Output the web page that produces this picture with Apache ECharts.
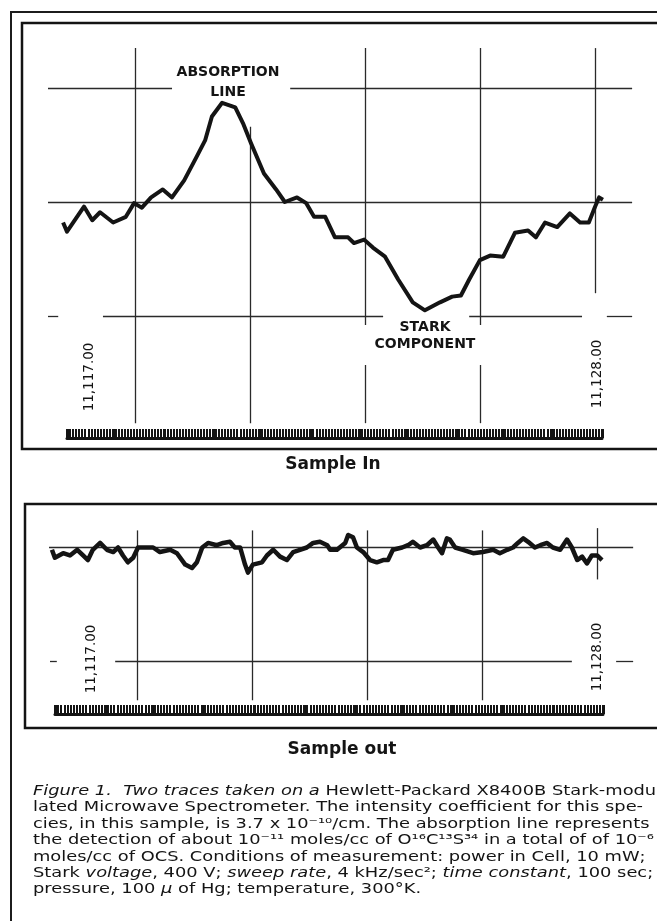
<!DOCTYPE html>
<html><head><meta charset="utf-8">
<script src="https://cdn.jsdelivr.net/npm/echarts/dist/echarts.min.js"></script>
<style>html,body{margin:0;padding:0;background:#fff}#c{width:657px;height:921px}</style>
</head><body><div id="c"></div>
<script>
// ---- data ----
const inFreq = [11116.94,11117.02,11117.37,11117.54,11117.70,11117.97,11118.23,11118.40,11118.56,11118.75,
 11118.99,11119.18,11119.43,11119.69,11119.86,11120.00,11120.21,11120.48,11120.64,11120.80,
 11121.07,11121.32,11121.50,11121.75,11121.94,11122.10,11122.33,11122.53,11122.80,11122.92,
 11123.13,11123.31,11123.56,11123.83,11124.13,11124.38,11124.69,11124.94,11125.12,11125.29,
 11125.51,11125.72,11125.99,11126.23,11126.50,11126.66,11126.85,11127.10,11127.36,11127.57,
 11127.75,11127.88,11127.96,11128.04];
const inSignal = [-0.18,-0.26,-0.04,-0.16,-0.09,-0.18,-0.13,-0.01,-0.05,0.04,
 0.11,0.04,0.19,0.40,0.54,0.75,0.87,0.83,0.69,0.52,
 0.25,0.11,0.00,0.04,-0.01,-0.13,-0.13,-0.31,-0.31,-0.36,
 -0.33,-0.40,-0.48,-0.68,-0.88,-0.95,-0.88,-0.83,-0.82,-0.68,
 -0.51,-0.47,-0.48,-0.27,-0.25,-0.31,-0.18,-0.22,-0.10,-0.18,
 -0.18,-0.04,0.04,0.02];
const outFreq = [11116.67,11116.73,11116.90,11117.04,11117.19,11117.31,11117.41,11117.51,11117.66,11117.80,
 11117.93,11118.03,11118.13,11118.23,11118.34,11118.44,11118.62,11118.75,11118.89,11119.10,
 11119.24,11119.41,11119.55,11119.65,11119.76,11119.88,11120.06,11120.19,11120.33,11120.43,
 11120.54,11120.64,11120.70,11120.80,11120.99,11121.09,11121.22,11121.36,11121.50,11121.63,
 11121.77,11121.91,11122.04,11122.18,11122.33,
 11122.39,11122.53,11122.70,11122.76,11122.86,11122.94,11123.07,11123.21,11123.35,11123.48,
 11123.58,11123.68,11123.87,11123.99,11124.09,11124.24,11124.38,11124.51,11124.61,11124.69,
 11124.79,11124.85,11124.96,11125.12,11125.33,11125.53,11125.74,11125.88,11126.03,11126.15,
 11126.25,11126.36,11126.46,11126.60,11126.71,11126.85,11126.97,11127.12,11127.26,11127.36,
 11127.47,11127.57,11127.67,11127.77,11127.88,11127.98];
const outSignal = [-0.02,-0.09,-0.05,-0.07,-0.02,-0.07,-0.11,-0.02,0.04,-0.02,
 -0.04,0.00,-0.07,-0.13,-0.09,0.00,0.00,0.00,-0.04,-0.02,
 -0.05,-0.15,-0.18,-0.13,0.00,0.04,0.02,0.04,0.05,0.00,
 0.00,-0.15,-0.22,-0.15,-0.13,-0.07,-0.02,-0.08,-0.11,-0.04,
 -0.02,0.00,0.04,0.05,0.02,
 -0.02,-0.02,0.04,0.11,0.09,0.00,-0.04,-0.11,-0.13,-0.11,
 -0.11,-0.02,0.00,0.02,0.05,0.00,0.02,0.07,0.00,-0.05,
 0.08,0.07,0.00,-0.02,-0.05,-0.04,-0.02,-0.05,-0.02,0.00,
 0.04,0.08,0.05,0.00,0.02,0.04,0.00,-0.02,0.07,0.00,
 -0.11,-0.08,-0.14,-0.07,-0.07,-0.11];
const sweepStart = 11117, sweepEnd = 11128;
const freqLabels = ['11,117.00', '11,128.00'];
const peakLabel = ['ABSORPTION', 'LINE'];
const dipLabel = ['STARK', 'COMPONENT'];
const panelTitles = ['Sample In', 'Sample out'];

// chart-paper rulings (level, from, to) and (freq, from, to)
const hRuleTop = [[1,11116.63,11119.18],[1,11121.61,11128.64],[0,11116.63,11128.64],
 [-1,11116.63,11116.84],[-1,11117.76,11123.52],[-1,11125.29,11127.61],[-1,11128.12,11128.64]];
const vRuleTop = [[11118.42,1.35,-1.94],[11120.78,0.66,-1.94],[11123.15,1.35,-1.08],[11123.15,-1.43,-1.94],
 [11125.51,1.35,-1.08],[11125.51,-1.43,-1.94],[11127.88,1.35,-0.80]];
const hRuleBot = [[0,11116.61,11128.62],[-1,11116.63,11116.77],[-1,11117.97,11127.36],[-1,11128.27,11128.62]];
const vRuleBot = [[11118.42,0.15,-1.34],[11120.78,0.15,-1.34],[11123.15,0.15,-1.34],[11125.51,0.15,-1.34],[11127.88,0.17,-0.28]];

function zip(a,b){return a.map((v,i)=>[v,b[i]]);}
function rules(h,v){
  const out=[];
  h.forEach(r=>out.push([{coord:[r[1],r[0]]},{coord:[r[2],r[0]]}]));
  v.forEach(r=>out.push([{coord:[r[0],r[1]]},{coord:[r[0],r[2]]}]));
  return out;
}
const ink = '#141414';
const ruleStyle = {color:'#2a2a2a', width:1.3, type:'solid'};
const rulerAxis = (gi)=>({gridIndex:gi,type:'value',min:sweepStart,max:sweepEnd,interval:1,
  axisLine:{show:true,lineStyle:{color:ink,width:3}},
  axisTick:{show:true,inside:true,length:9,lineStyle:{color:ink,width:3}},
  minorTick:{show:true,splitNumber:16,length:9,lineStyle:{color:ink,width:2}},
  axisLabel:{show:false},splitLine:{show:false}});

const chart = echarts.init(document.getElementById('c'), null, {renderer:'canvas'});
const F = '"DejaVu Sans", "Liberation Sans", sans-serif';
const C = {textAlign:'center',textVerticalAlign:'middle',align:'center',verticalAlign:'middle',fill:ink};
chart.setOption({
  animation:false,
  backgroundColor:'#fff',
  grid:[
    {left:41.68,width:598.22,top:31,height:399},
    {left:43.68,width:598.22,top:490.5,height:228},
    {left:67,width:535,top:437,height:1},
    {left:55,width:548,top:713,height:1}
  ],
  xAxis:[
    {gridIndex:0,type:'value',min:11116.5,max:11128.8,show:false},
    {gridIndex:1,type:'value',min:11116.5,max:11128.8,show:false},
    rulerAxis(2), rulerAxis(3)
  ],
  yAxis:[
    {gridIndex:0,type:'value',min:-2,max:1.5,show:false},
    {gridIndex:1,type:'value',min:-1.5,max:0.5,show:false},
    {gridIndex:2,type:'value',show:false},
    {gridIndex:3,type:'value',show:false}
  ],
  series:[
    {type:'line',xAxisIndex:0,yAxisIndex:0,data:[],z:1,silent:true,
     markLine:{silent:true,symbol:'none',label:{show:false},lineStyle:ruleStyle,data:rules(hRuleTop,vRuleTop)}},
    {type:'line',xAxisIndex:1,yAxisIndex:1,data:[],z:1,silent:true,
     markLine:{silent:true,symbol:'none',label:{show:false},lineStyle:ruleStyle,data:rules(hRuleBot,vRuleBot)}},
    {name:'Sample In',type:'line',xAxisIndex:0,yAxisIndex:0,data:zip(inFreq,inSignal),z:5,
     showSymbol:false,symbol:'none',lineStyle:{color:ink,width:4,join:'round'}},
    {name:'Sample out',type:'line',xAxisIndex:1,yAxisIndex:1,data:zip(outFreq,outSignal),z:5,
     showSymbol:false,symbol:'none',lineStyle:{color:ink,width:4.5,join:'round'}}
  ],
  graphic:[
    {type:'rect',silent:true,shape:{x:11,y:12,width:700,height:950},style:{fill:'none',stroke:'#1c1c1c',lineWidth:2}},
    {type:'rect',silent:true,shape:{x:22,y:23,width:700,height:426},style:{fill:'none',stroke:ink,lineWidth:2.5}},
    {type:'rect',silent:true,shape:{x:25,y:504,width:700,height:224},style:{fill:'none',stroke:ink,lineWidth:2.5}},
    {type:'text',x:228,y:72,z:10,style:Object.assign({text:peakLabel[0],font:'bold 14px '+F},C)},
    {type:'text',x:228,y:92,z:10,style:Object.assign({text:peakLabel[1],font:'bold 14px '+F},C)},
    {type:'text',x:425,y:327,z:10,style:Object.assign({text:dipLabel[0],font:'bold 14px '+F},C)},
    {type:'text',x:425,y:344,z:10,style:Object.assign({text:dipLabel[1],font:'bold 14px '+F},C)},
    {type:'text',x:89,y:377,rotation:Math.PI/2,z:10,style:Object.assign({text:freqLabels[0],font:'13.5px '+F},C)},
    {type:'text',x:597,y:374,rotation:Math.PI/2,z:10,style:Object.assign({text:freqLabels[1],font:'13.5px '+F},C)},
    {type:'text',x:91,y:659,rotation:Math.PI/2,z:10,style:Object.assign({text:freqLabels[0],font:'13.5px '+F},C)},
    {type:'text',x:597,y:657,rotation:Math.PI/2,z:10,style:Object.assign({text:freqLabels[1],font:'13.5px '+F},C)},
    {type:'text',x:333,y:465,z:10,style:Object.assign({text:panelTitles[0],font:'bold 17px '+F},C)},
    {type:'text',x:342,y:750,z:10,style:Object.assign({text:panelTitles[1],font:'bold 17px '+F},C)},
    {type:'text',x:33,y:783,z:10,scaleX:1.23,style:{
      text:'{i|Figure 1.  Two traces taken on a} Hewlett-Packard X8400B Stark-modu-\n'+
           'lated Microwave Spectrometer. The intensity coefficient for this spe-\n'+
           'cies, in this sample, is 3.7 x 10⁻¹⁰/cm. The absorption line represents\n'+
           'the detection of about 10⁻¹¹ moles/cc of O¹⁶C¹³S³⁴ in a total of of 10⁻⁶\n'+
           'moles/cc of OCS. Conditions of measurement: power in Cell, 10 mW;\n'+
           'Stark {i|voltage}, 400 V; {i|sweep rate}, 4 kHz/sec²; {i|time constant}, 100 sec;\n'+
           'pressure, 100 {i|µ} of Hg; temperature, 300°K.',
      font:'14.5px '+F,fontSize:14.5,fontFamily:F,fill:ink,lineHeight:16.4,
      textAlign:'left',textVerticalAlign:'top',align:'left',verticalAlign:'top',
      rich:{i:{fontStyle:'italic',fontSize:14.5,fontFamily:F,fill:ink,lineHeight:16.4}}
    }}
  ]
});
</script></body></html>
